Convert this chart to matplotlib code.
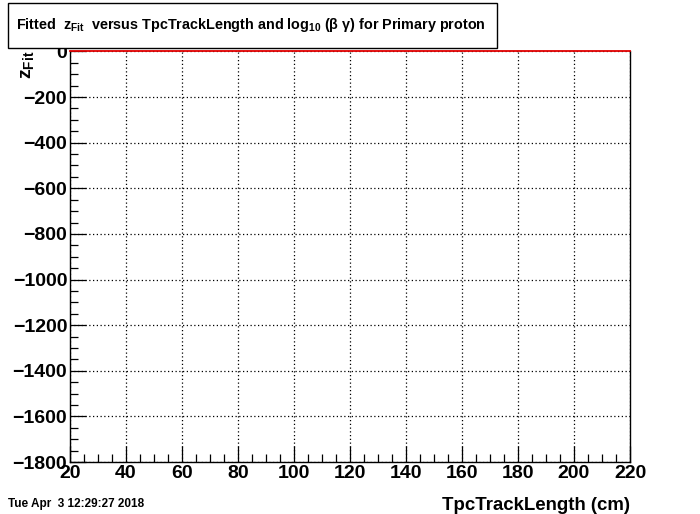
import numpy as np
import matplotlib
matplotlib.use('Agg')
import matplotlib.pyplot as plt
from matplotlib.patches import Rectangle
from matplotlib.ticker import MultipleLocator

#----Axis ranges and text----
x_range = [20, 220]
y_range = [-1800, 0]
x_major, x_minor = 20, 5
y_major, y_minor = 200, 50
zfit_level = 0   # empty fit histogram sits on zero

title = (r"Fitted  z$_{\mathregular{Fit}}$  versus TpcTrackLength and "
         r"log$_{\mathregular{10}}$ ($\beta$ $\gamma$) for Primary proton")
xlabel = "TpcTrackLength (cm)"
ylabel = r"z$_{\mathregular{Fit}}$"
datestamp = "Tue Apr  3 12:29:27 2018"

plt.rcParams['font.family'] = ['Liberation Sans', 'DejaVu Sans']
plt.rcParams['font.weight'] = 'bold'
plt.rcParams['mathtext.fontset'] = 'custom'
plt.rcParams['mathtext.rm'] = 'Liberation Sans:bold'
plt.rcParams['mathtext.it'] = 'Liberation Sans:bold'
plt.rcParams['mathtext.bf'] = 'Liberation Sans:bold'

fig = plt.figure(figsize=(7, 5.14), dpi=100)
ax = fig.add_axes([0.1, 0.101, 0.8, 0.799])

ax.set_xlim(x_range)
ax.set_ylim(y_range)
ax.spines['top'].set_visible(False)
ax.axhline(zfit_level, color='#e00000', lw=1.3, zorder=5, clip_on=False)

ax.xaxis.set_major_locator(MultipleLocator(x_major))
ax.xaxis.set_minor_locator(MultipleLocator(x_minor))
ax.yaxis.set_major_locator(MultipleLocator(y_major))
ax.yaxis.set_minor_locator(MultipleLocator(y_minor))
ax.grid(True, which='major', color='black', linestyle=(0, (1, 2)), lw=0.9)

ax.tick_params(which='major', direction='in', length=11.5, width=0.9,
               labelsize=14, top=False, right=False)
ax.tick_params(which='minor', direction='in', length=5.8, width=0.9,
               top=False, right=False)
ax.tick_params(axis='x', pad=2)
ax.tick_params(axis='y', pad=2)
for lab in ax.get_xticklabels() + ax.get_yticklabels():
    lab.set_fontweight('bold')
for s in ax.spines.values():
    s.set_linewidth(1.0)

fig.text(630 / 700, 1 - 505 / 514, xlabel, ha='right', va='center',
         fontsize=13.4, fontweight='bold')
fig.text(28 / 700, 1 - 51 / 514, ylabel, rotation=90, ha='center', va='top',
         fontsize=14, fontweight='bold')
fig.text(8 / 700, 1 - 504 / 514, datestamp, ha='left', va='center',
         fontsize=8.5, fontweight='bold')

#----Title box----
box = Rectangle((8 / 700, 1 - 48 / 514), 489 / 700, 45 / 514,
                transform=fig.transFigure, facecolor='white',
                edgecolor='black', lw=1.0, zorder=10)
fig.patches.append(box)
fig.text(251 / 700, 1 - 25 / 514, title, ha='center', va='center',
         fontsize=10.4, fontweight='bold', zorder=11)

fig.savefig('out.png', dpi=100)
